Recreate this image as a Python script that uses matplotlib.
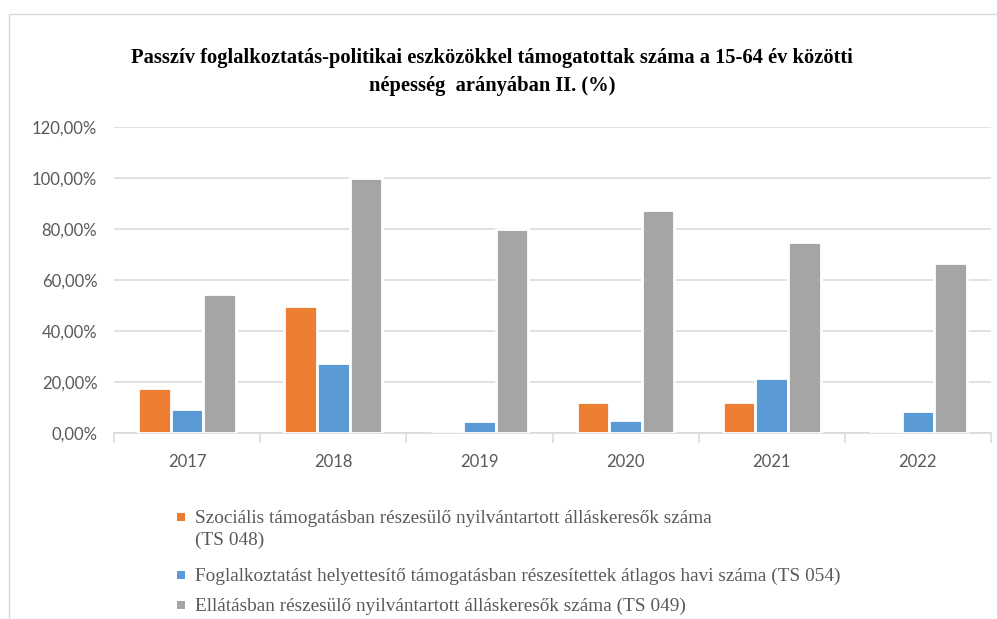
import matplotlib
matplotlib.use('Agg')
import matplotlib.pyplot as plt
import matplotlib.ticker as mticker
from matplotlib.patches import Rectangle
import numpy as np

# values (percent)
years = ['2017', '2018', '2019', '2020', '2021', '2022']
szocialis = [17.8, 49.8, 0.1, 12.2, 12.2, 0.0]
foglalkoztatast = [9.5, 27.5, 4.8, 5.0, 21.6, 8.8]
ellatasban = [54.4, 100.1, 80.0, 87.5, 75.0, 66.6]

series = [szocialis, foglalkoztatast, ellatasban]
labels = [
    'Szociális támogatásban részesülő nyilvántartott álláskeresők száma\n(TS 048)',
    'Foglalkoztatást helyettesítő támogatásban részesítettek átlagos havi száma (TS 054)',
    'Ellátásban részesülő nyilvántartott álláskeresők száma (TS 049)',
]
colors = ['#ED7D31', '#5B9BD5', '#A5A5A5']
title = ('Passzív foglalkoztatás-politikai eszközökkel támogatottak száma a 15-64 év közötti\n'
         'népesség  arányában II. (%)')

W, H = 997, 619
GRID = '#D9D9D9'
TXT = '#595959'
SERIF = 'Liberation Serif'
SANS = 'Lato'

fig = plt.figure(figsize=(W / 100, H / 100), dpi=100)
ax = fig.add_axes([114 / W, 1 - 433 / H, (991 - 114) / W, (433 - 127) / H])

x = np.arange(len(years))
bw = 0.223
for i, (vals, col) in enumerate(zip(series, colors)):
    ax.bar(x + (i - 1) * bw, vals, width=bw, color=col, edgecolor='white',
           linewidth=2.0, zorder=3)

ax.set_xlim(-0.5, len(years) - 0.5)
ax.set_ylim(0, 120)
ax.yaxis.set_major_locator(mticker.MultipleLocator(20))
ax.yaxis.set_major_formatter(mticker.FuncFormatter(
    lambda v, pos: f'{v:.2f}'.replace('.', ',') + '%'))
ax.grid(axis='y', color=GRID, linewidth=1.1, zorder=0)
ax.set_axisbelow(True)

ax.set_xticks(x)
ax.set_xticklabels(years)
ax.set_xticks(np.arange(len(years) + 1) - 0.5, minor=True)
ax.tick_params(axis='x', which='major', length=0, pad=15, labelsize=12, labelcolor=TXT)
ax.tick_params(axis='x', which='minor', length=7, width=1.1, color=GRID)
ax.tick_params(axis='y', length=0, pad=12, labelsize=12, labelcolor=TXT)
for lab in ax.get_xticklabels() + ax.get_yticklabels():
    lab.set_fontfamily(SANS)

for side in ['left', 'right', 'top']:
    ax.spines[side].set_visible(False)
ax.spines['bottom'].set_color(GRID)
ax.spines['bottom'].set_linewidth(1.1)
ax.spines['bottom'].set_zorder(1)

fig.text(492 / W, 1 - 72 / H, title, ha='center', va='center', family=SERIF,
         fontweight='bold', fontsize=14.8, linespacing=1.5, color='black')

# legend below the plot, one square marker per series
centers = [517, 575, 605]
for lab, col, cy in zip(labels, colors, centers):
    fig.add_artist(Rectangle((177 / W, 1 - (cy + 4) / H), 8 / W, 8 / H,
                             transform=fig.transFigure, facecolor=col,
                             edgecolor='none'))
    # top of the text block so that the first line is centred on the marker
    fig.text(195 / W, 1 - (cy - 7) / H, lab, ha='left', va='top',
             family=SERIF, fontsize=13.9, color=TXT, linespacing=1.35)

# chart area border
fig.add_artist(Rectangle((9 / W, -0.1), 1.2, 1.1 - 14 / H, transform=fig.transFigure,
                         fill=False, edgecolor=GRID, linewidth=1.0))

fig.savefig('out.png', dpi=100)
